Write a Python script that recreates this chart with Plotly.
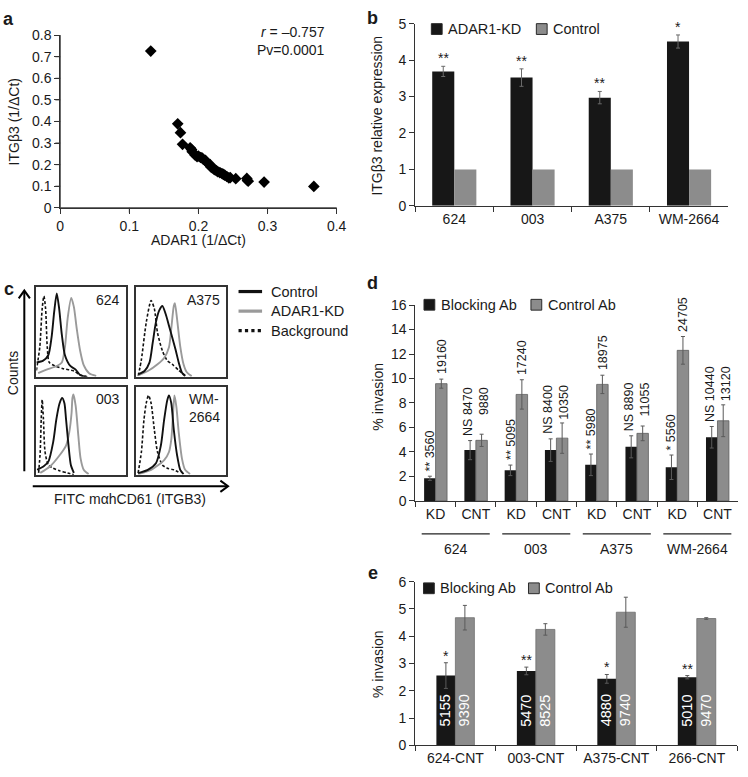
import plotly.graph_objects as go

W, H = 748, 777
FONT = "Liberation Sans, Arial, Helvetica, sans-serif"
INK = "#1a1a1a"
AXC = "#333333"
BLK = "#171717"
GRY = "#8c8c8c"
ERRC = "#5a5a5a"

# ---------------- panel a data ----------------
a_adar1 = [0.131, 0.170, 0.174, 0.177, 0.188, 0.190, 0.191, 0.195, 0.198, 0.200,
           0.203, 0.205, 0.207, 0.210, 0.211, 0.214, 0.217, 0.218, 0.220, 0.223,
           0.226, 0.228, 0.231, 0.234, 0.236, 0.238, 0.241, 0.244, 0.246, 0.254,
           0.270, 0.271, 0.272, 0.295, 0.367]
a_itgb3 = [0.726, 0.389, 0.348, 0.294, 0.278, 0.270, 0.260, 0.245, 0.237, 0.240,
           0.233, 0.232, 0.225, 0.220, 0.215, 0.204, 0.200, 0.189, 0.185, 0.177,
           0.172, 0.167, 0.163, 0.159, 0.155, 0.151, 0.145, 0.139, 0.140, 0.135,
           0.136, 0.127, 0.123, 0.119, 0.099]
a_xticks = [0, 0.1, 0.2, 0.3, 0.4]
a_yticks = [0, 0.1, 0.2, 0.3, 0.4, 0.5, 0.6, 0.7, 0.8]

# ---------------- panel b data ----------------
b_lines = ["624", "003", "A375", "WM-2664"]
b_kd = [3.69, 3.52, 2.97, 4.51]
b_kd_err = [0.14, 0.24, 0.17, 0.18]
b_ctrl = [1, 1, 1, 1]
b_sig = ["**", "**", "**", "*"]

# ---------------- panel c data (flow histograms, normalised) ----------------
c624_bg_x = [0, 0.038, 0.065, 0.084, 0.103, 0.122, 0.144, 0.21, 0.30, 0.42, 0.49, 0.57]
c624_bg_y = [0.07, 0.33, 0.76, 0.90, 0.76, 0.33, 0.16, 0.12, 0.09, 0.065, 0.02, 0]
c624_ct_x = [0, 0.076, 0.133, 0.17, 0.20, 0.228, 0.255, 0.285, 0.32, 0.38, 0.44, 0.49, 0.55]
c624_ct_y = [0.16, 0.18, 0.24, 0.44, 0.73, 0.93, 0.76, 0.47, 0.24, 0.12, 0.08, 0.02, 0]
c624_kd_x = [0.02, 0.114, 0.228, 0.285, 0.32, 0.35, 0.39, 0.42, 0.45, 0.49, 0.53, 0.59, 0.67]
c624_kd_y = [0.04, 0.08, 0.12, 0.16, 0.33, 0.65, 0.88, 0.78, 0.55, 0.29, 0.13, 0.04, 0.01]

cA375_bg_x = [0.02, 0.055, 0.11, 0.164, 0.2, 0.236, 0.29, 0.345, 0.4, 0.47, 0.545]
cA375_bg_y = [0.01, 0.19, 0.61, 0.85, 0.76, 0.49, 0.29, 0.18, 0.14, 0.075, 0.015]
cA375_ct_x = [0.018, 0.09, 0.145, 0.182, 0.218, 0.255, 0.29, 0.327, 0.364, 0.4, 0.436, 0.473, 0.51, 0.545]
cA375_ct_y = [0.026, 0.064, 0.157, 0.38, 0.61, 0.74, 0.79, 0.70, 0.57, 0.44, 0.31, 0.16, 0.045, 0.007]
cA375_kd_x = [0.018, 0.127, 0.236, 0.31, 0.364, 0.39, 0.418, 0.43, 0.455, 0.49, 0.527, 0.564, 0.618]
cA375_kd_y = [0.015, 0.064, 0.14, 0.21, 0.33, 0.54, 0.79, 0.82, 0.64, 0.34, 0.14, 0.05, 0.007]

c003_bg_x = [0.025, 0.043, 0.054, 0.065, 0.079, 0.097, 0.134, 0.188, 0.26, 0.35, 0.42]
c003_bg_y = [0.02, 0.26, 0.63, 0.85, 0.63, 0.26, 0.11, 0.074, 0.044, 0.02, 0]
c003_ct_x = [0.007, 0.079, 0.134, 0.188, 0.224, 0.26, 0.289, 0.314, 0.332, 0.36, 0.386, 0.42]
c003_ct_y = [0.056, 0.093, 0.148, 0.37, 0.63, 0.81, 0.87, 0.81, 0.63, 0.33, 0.11, 0.02]
c003_kd_x = [0.043, 0.152, 0.26, 0.332, 0.368, 0.394, 0.404, 0.415, 0.44, 0.47, 0.495, 0.53, 0.585]
c003_kd_y = [0.02, 0.093, 0.22, 0.33, 0.48, 0.70, 0.87, 0.91, 0.78, 0.44, 0.185, 0.056, 0.007]

cWM_bg_x = [0.018, 0.055, 0.084, 0.109, 0.135, 0.164, 0.2, 0.236, 0.29, 0.345, 0.418, 0.49]
cWM_bg_y = [0.018, 0.257, 0.625, 0.81, 0.90, 0.81, 0.51, 0.257, 0.11, 0.074, 0.055, 0.018]
cWM_ct_x = [0.018, 0.127, 0.218, 0.273, 0.31, 0.345, 0.364, 0.39, 0.418, 0.455, 0.49, 0.527]
cWM_ct_y = [0.018, 0.055, 0.13, 0.33, 0.625, 0.846, 0.90, 0.81, 0.51, 0.22, 0.055, 0.007]
cWM_kd_x = [0.018, 0.164, 0.31, 0.364, 0.39, 0.41, 0.425, 0.447, 0.473, 0.51, 0.545, 0.6]
cWM_kd_y = [0.007, 0.055, 0.165, 0.257, 0.40, 0.70, 0.90, 0.77, 0.48, 0.18, 0.055, 0.007]

c_titles = ["624", "A375", "003", "WM-<br>2664"]

# ---------------- panel d data ----------------
d_lines = ["624", "003", "A375", "WM-2664"]
d_cond = ["KD", "CNT"]
d_block = [1.85, 4.15, 2.50, 4.15, 2.95, 4.42, 2.75, 5.20]
d_block_err = [0.17, 0.78, 0.43, 0.92, 0.88, 0.90, 1.00, 0.88]
d_ctrl = [9.58, 4.95, 8.70, 5.13, 9.52, 5.52, 12.30, 6.55]
d_ctrl_err = [0.37, 0.50, 1.20, 1.24, 0.75, 0.60, 1.13, 1.30]
d_sig = ["**", "NS", "**", "NS", "**", "NS", "*", "NS"]
d_block_n = ["3560", "8470", "5095", "8400", "5980", "8890", "5560", "10440"]
d_ctrl_n = ["19160", "9880", "17240", "10350", "18975", "11055", "24705", "13120"]

# ---------------- panel e data ----------------
e_cats = ["624-CNT", "003-CNT", "A375-CNT", "266-CNT"]
e_block = [2.56, 2.73, 2.44, 2.50]
e_block_err = [0.47, 0.14, 0.16, 0.06]
e_ctrl = [4.68, 4.25, 4.88, 4.65]
e_ctrl_err = [0.45, 0.21, 0.55, 0.03]
e_sig = ["*", "**", "*", "**"]
e_block_n = ["5155", "5470", "4880", "5010"]
e_ctrl_n = ["9390", "8525", "9740", "9470"]


def X(p):
    return p / W


def Y(p):
    return 1 - p / H


fig = go.Figure()

# ---- b
wb = 0.282
errb = dict(type="data", array=b_kd_err, visible=True, color="#6a6a6a", thickness=1, width=2)
fig.add_trace(go.Bar(x=b_lines, y=b_kd, error_y=errb, width=wb, offset=-wb,
                     marker=dict(color=BLK, line=dict(width=0)),
                     xaxis="x2", yaxis="y2", showlegend=False))
fig.add_trace(go.Bar(x=b_lines, y=b_ctrl, width=wb, offset=0,
                     marker=dict(color=GRY, line=dict(width=0)),
                     xaxis="x2", yaxis="y2", showlegend=False))

# ---- a (scatter)
fig.add_trace(go.Scatter(x=a_adar1, y=a_itgb3, mode="markers",
                         marker=dict(symbol="diamond", size=9, color="black"),
                         xaxis="x9", yaxis="y9", showlegend=False))

# ---- c
c_sets = [
    (c624_bg_x, c624_bg_y, c624_ct_x, c624_ct_y, c624_kd_x, c624_kd_y),
    (cA375_bg_x, cA375_bg_y, cA375_ct_x, cA375_ct_y, cA375_kd_x, cA375_kd_y),
    (c003_bg_x, c003_bg_y, c003_ct_x, c003_ct_y, c003_kd_x, c003_kd_y),
    (cWM_bg_x, cWM_bg_y, cWM_ct_x, cWM_ct_y, cWM_kd_x, cWM_kd_y),
]
for i, (bx, by, cx, cy, kx, ky) in enumerate(c_sets):
    xa, ya = "x%d" % (i + 3), "y%d" % (i + 3)
    fig.add_trace(go.Scatter(x=bx, y=by, mode="lines", line=dict(color="#111", width=1.6, dash="3px,2px", shape="spline", smoothing=0.7),
                             xaxis=xa, yaxis=ya, showlegend=False))
    fig.add_trace(go.Scatter(x=kx, y=ky, mode="lines", line=dict(color="#9a9a9a", width=1.9, shape="spline", smoothing=0.7),
                             xaxis=xa, yaxis=ya, showlegend=False))
    fig.add_trace(go.Scatter(x=cx, y=cy, mode="lines", line=dict(color="#111", width=1.9, shape="spline", smoothing=0.7),
                             xaxis=xa, yaxis=ya, showlegend=False))

# ---- d
wd = 0.285
d_cats = [l + " " + c for l in d_lines for c in d_cond]
d_ticktext = [c for l in d_lines for c in d_cond]
fig.add_trace(go.Bar(x=d_cats, y=d_block, width=wd, offset=-wd,
                     error_y=dict(type="data", array=d_block_err, visible=True, color=ERRC, thickness=1, width=2),
                     marker=dict(color=BLK, line=dict(width=0)),
                     xaxis="x7", yaxis="y7", showlegend=False))
fig.add_trace(go.Bar(x=d_cats, y=d_ctrl, width=wd, offset=0,
                     error_y=dict(type="data", array=d_ctrl_err, visible=True, color=ERRC, thickness=1, width=2),
                     marker=dict(color=GRY, line=dict(width=0.8, color="#5e5e5e")),
                     xaxis="x7", yaxis="y7", showlegend=False))

# ---- e
we = 0.236
fig.add_trace(go.Bar(x=e_cats, y=e_block, width=we, offset=-we,
                     error_y=dict(type="data", array=e_block_err, visible=True, color=ERRC, thickness=1, width=2),
                     marker=dict(color=BLK, line=dict(width=0)),
                     xaxis="x8", yaxis="y8", showlegend=False))
fig.add_trace(go.Bar(x=e_cats, y=e_ctrl, width=we, offset=0,
                     error_y=dict(type="data", array=e_ctrl_err, visible=True, color=ERRC, thickness=1, width=2),
                     marker=dict(color=GRY, line=dict(width=0.8, color="#6e6e6e")),
                     xaxis="x8", yaxis="y8", showlegend=False))

tickfont = dict(size=14, color=INK, family=FONT)
base_ax = dict(showgrid=False, zeroline=False, showline=True, linecolor=AXC, linewidth=1,
               ticks="outside", ticklen=5, tickcolor=AXC, tickwidth=1, tickfont=tickfont,
               fixedrange=True, layer="above traces")
box_ax = dict(showgrid=False, zeroline=False, showline=True, mirror=True, linecolor="#333",
              linewidth=1.6, showticklabels=False, ticks="", range=[0, 1], fixedrange=True)

A_X0, A_X1, A_Y0, A_Y1 = 57.3, 339, 204, 27.7
layout = dict(
    width=W, height=H, autosize=False,
    margin=dict(l=0, r=0, t=0, b=0),
    paper_bgcolor="white", plot_bgcolor="white",
    font=dict(family=FONT, color=INK, size=14),
    barmode="group",
    xaxis9=dict(base_ax, domain=[X(A_X0), X(A_X1)], range=[0, 0.4], tickmode="array",
                tickvals=a_xticks, ticktext=[("%g" % v) for v in a_xticks], anchor="y9"),
    yaxis9=dict(base_ax, domain=[Y(A_Y0), Y(A_Y1)], range=[0, 0.8], tickmode="array",
                tickvals=a_yticks, ticktext=[("%g" % v) for v in a_yticks], anchor="x9"),
    xaxis2=dict(base_ax, domain=[X(419), X(738)], type="category", tickson="boundaries",
                range=[-0.5, 3.5], anchor="y2"),
    yaxis2=dict(base_ax, domain=[Y(202), Y(16)], range=[0, 5], dtick=1, anchor="x2"),
    xaxis7=dict(base_ax, domain=[X(419.3), X(747.6)], type="category", tickson="boundaries",
                tickmode="array", tickvals=d_cats, ticktext=d_ticktext, range=[-0.5, 7.5], anchor="y7"),
    yaxis7=dict(base_ax, domain=[Y(503.3), Y(303.3)], range=[0, 16], dtick=2, anchor="x7"),
    xaxis8=dict(base_ax, domain=[X(419), X(747)], type="category", tickson="boundaries",
                range=[-0.5, 3.5], anchor="y8"),
    yaxis8=dict(base_ax, domain=[Y(753), Y(585.7)], range=[0, 6], dtick=1, anchor="x8"),
)
c_boxes = [((33, 124), (285, 376.5)), ((135, 226), (285, 376.5)),
           ((33, 124), (386.5, 476.5)), ((135, 226), (386.5, 476.5))]
for i, ((x0, x1), (y0, y1)) in enumerate(c_boxes):
    n = i + 3
    layout["xaxis%d" % n] = dict(box_ax, domain=[X(x0), X(x1)], anchor="y%d" % n)
    layout["yaxis%d" % n] = dict(box_ax, domain=[Y(y1), Y(y0)], anchor="x%d" % n)
fig.update_layout(**layout)

ann = []
shapes = []

# panel a axis lines and tick marks (guaranteed, drawn over the axis frame)
a_w, a_h = A_X1 - A_X0, A_Y0 - A_Y1
axline = dict(color=AXC, width=1)
shapes.append(dict(type="line", xref="x9 domain", yref="y9 domain", x0=0, x1=1, y0=0, y1=0, line=axline))
shapes.append(dict(type="line", xref="x9 domain", yref="y9 domain", x0=0, x1=0, y0=0, y1=1, line=axline))
for v in a_xticks:
    shapes.append(dict(type="line", xref="x9", yref="y9 domain", x0=v, x1=v, y0=0, y1=-5 / a_h, line=axline))
for v in a_yticks:
    shapes.append(dict(type="line", xref="x9 domain", yref="y9", x0=0, x1=-5 / a_w, y0=v, y1=v, line=axline))


def txt(x, y, text, size=14, xanchor="center", yanchor="middle", angle=0, **kw):
    d = dict(x=X(x), y=Y(y), xref="paper", yref="paper", text=text, showarrow=False,
             xanchor=xanchor, yanchor=yanchor, textangle=angle,
             font=dict(size=size, family=FONT, color=kw.pop("color", INK)))
    d.update(kw)
    ann.append(d)


# panel letters
for lab, x, y in [("a", 5, 11), ("b", 376, 10), ("c", 5, 287), ("d", 376, 281), ("e", 376, 577)]:
    txt(x, y, "<b>%s</b>" % lab, size=18, xanchor="center")

# ---- a texts
txt(10, 116, "ITGβ3 (1/ΔCt)", angle=-90)
txt(198, 237, "ADAR1 (1/ΔCt)")
txt(329, 25, "<i>r</i> = –0.757", xanchor="right")
txt(329, 43, "Pv=0.0001", xanchor="right")

# ---- b texts
txt(380, 110, "ITGβ3 relative expression", angle=-90)
for i, s in enumerate(b_sig):
    ann.append(dict(x=i - wb / 2, y=b_kd[i] + b_kd_err[i], xref="x2", yref="y2", text=s,
                    showarrow=False, yanchor="bottom", yshift=-2, font=dict(size=14, family=FONT, color=INK)))


def legend_box(x0, yc, color, label, w=11, lw=1):
    shapes.append(dict(type="rect", xref="paper", yref="paper", x0=X(x0), x1=X(x0 + w),
                       y0=Y(yc + w / 2), y1=Y(yc - w / 2), fillcolor=color,
                       line=dict(color="#2a2a2a", width=lw)))
    txt(x0 + w + 4, yc, label, size=14.5, xanchor="left")


legend_box(435.5, 21.5, BLK, "ADAR1-KD")
legend_box(542.5, 21.5, GRY, "Control")
legend_box(428, 303, BLK, "Blocking Ab")
legend_box(537, 303, GRY, "Control Ab")
legend_box(427.5, 592.5, BLK, "Blocking Ab")
legend_box(534.5, 592.5, GRY, "Control Ab")

# ---- c texts
for i, ((x0, x1), (y0, y1)) in enumerate(c_boxes):
    txt(x1 - 4, y0 + 2.5, c_titles[i], xanchor="right", yanchor="top", align="left")
txt(10, 373, "Counts", angle=-90)
txt(128, 501, "FITC mαhCD61 (ITGB3)")
# arrows
shapes.append(dict(type="line", xref="paper", yref="paper", x0=X(20.7), x1=X(20.7), y0=Y(473), y1=Y(289),
                   line=dict(color="black", width=2)))
shapes.append(dict(type="path", xref="paper", yref="paper",
                   path="M %f,%f L %f,%f L %f,%f" % (X(15), Y(296.5), X(20.7), Y(288.5), X(26.4), Y(296.5)),
                   line=dict(color="black", width=2)))
shapes.append(dict(type="line", xref="paper", yref="paper", x0=X(29.3), x1=X(227.5), y0=Y(488.3), y1=Y(488.3),
                   line=dict(color="black", width=2)))
shapes.append(dict(type="path", xref="paper", yref="paper",
                   path="M %f,%f L %f,%f L %f,%f" % (X(220.5), Y(482.6), X(228.3), Y(488.3), X(220.5), Y(494)),
                   line=dict(color="black", width=2)))
# legend of c
for yc, col, dash, label in [(289.5, "#111", "solid", "Control"), (309.5, "#9a9a9a", "solid", "ADAR1-KD"),
                             (329.5, "#111", "dot", "Background")]:
    shapes.append(dict(type="line", xref="paper", yref="paper", x0=X(239), x1=X(263), y0=Y(yc), y1=Y(yc),
                       line=dict(color=col, width=3.2, dash=dash)))
    txt(270, yc, label, size=14.5, xanchor="left")

# ---- d texts
txt(381, 397, "% invasion", angle=-90)
afont = dict(size=12.5, family=FONT, color=INK)
for i in range(len(d_cats)):
    if i % 2 == 0:
        ann.append(dict(x=i - wd / 2, y=d_block[i] + d_block_err[i], xref="x7", yref="y7",
                        text=d_sig[i] + " " + d_block_n[i], textangle=-90, showarrow=False,
                        yanchor="bottom", yshift=3, font=afont))
        ann.append(dict(x=i + wd / 2, y=d_ctrl[i] + d_ctrl_err[i], xref="x7", yref="y7",
                        text=d_ctrl_n[i], textangle=-90, showarrow=False,
                        yanchor="bottom", yshift=3, font=afont))
    else:
        ann.append(dict(x=i, y=d_block[i] + d_block_err[i], xref="x7", yref="y7",
                        text=d_sig[i] + " " + d_block_n[i] + "<br>" + d_ctrl_n[i], align="right",
                        textangle=-90, showarrow=False, yanchor="bottom", yshift=3, font=afont))
# group underline + labels
for g, name in enumerate(d_lines):
    i0, i1 = 2 * g, 2 * g + 1
    shapes.append(dict(type="line", xref="x7", yref="paper", x0=i0 - 0.5 + 0.155, x1=i1 + 0.5 - 0.155,
                       y0=Y(537), y1=Y(537), line=dict(color="#222", width=1.3)))
    ann.append(dict(x=(i0 + i1) / 2, y=Y(552), xref="x7", yref="paper", text=name, showarrow=False,
                    yanchor="middle", font=dict(size=14, family=FONT, color=INK)))

# ---- e texts
txt(381, 670, "% invasion", angle=-90)
for i in range(len(e_cats)):
    ann.append(dict(x=i - we / 2, y=e_block[i] + e_block_err[i], xref="x8", yref="y8", text=e_sig[i],
                    showarrow=False, yanchor="bottom", yshift=-3, font=dict(size=14, family=FONT, color=INK)))
    ann.append(dict(x=i - we / 2, y=0, xref="x8", yref="y8", text=e_block_n[i], textangle=-90,
                    showarrow=False, yanchor="bottom", yshift=17, font=dict(size=14.5, family=FONT, color="white")))
    ann.append(dict(x=i + we / 2, y=0, xref="x8", yref="y8", text=e_ctrl_n[i], textangle=-90,
                    showarrow=False, yanchor="bottom", yshift=17, font=dict(size=14.5, family=FONT, color="white")))

fig.update_layout(annotations=ann, shapes=shapes)
fig.write_html("out.html", config={"displayModeBar": False},
               post_script="document.body.style.margin='0px';document.body.style.overflow='hidden';")
